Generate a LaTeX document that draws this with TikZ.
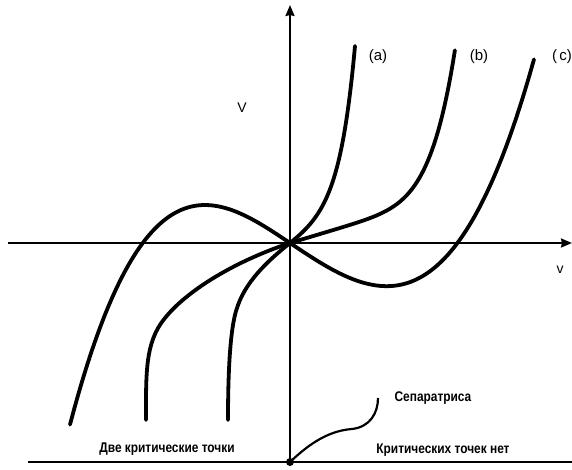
\documentclass[tikz,border=0pt]{standalone}
\usepackage{fontspec}
\setmainfont{Liberation Sans}
\newfontfamily\narrowfont[FakeStretch=0.85]{Liberation Sans}
\usetikzlibrary{arrows.meta}

\begin{document}
\begin{tikzpicture}[x=1pt, y=1pt, >={Stealth[length=11pt, width=9pt, inset=1pt]},
    curve/.style={line width=3.8pt, line cap=round},
    axis/.style={line width=2pt},
    lbl/.style={font=\fontsize{15}{17}\selectfont},
    axlbl/.style={font=\fontsize{14}{16}\selectfont},
    note/.style={font=\narrowfont\bfseries\fontsize{14}{16}\selectfont}]

    % Picture window, in pixels of the original, origin at the crossing of the axes
    \useasboundingbox (-290,-227) rectangle (282,243);
    \coordinate (O) at (0,0);
    \coordinate (B) at (0,-219);

    % Axes
    \draw[->, axis] (-282,0) -- (282,0);
    \draw[->, axis] (B) -- (0,238);
    \node[axlbl] (vlab) at (270,-27) {v};
    \node[axlbl] (Vlab) at (-48,135) {V};

    % Curve (a): steep on both sides
    \draw[curve] (-62,-177) .. controls (-62,-130) and (-60,-85) .. (-53,-65)
        .. controls (-45,-40) and (-25,-20) .. (O)
        .. controls (35,28) and (52,55) .. (65,197);
    % Curve (b): flat at the origin, then V = 0.3 v + c v^7 (units of 100)
    \draw[curve] (-144,-177) .. controls (-144,-130) and (-145,-99) .. (-125,-75)
        .. controls (-105,-50) and (-60,-20) .. (O)
        -- plot[domain=0:1.65, samples=80, variable=\u] ({100*\u}, {30*\u+4.32*\u^7});
    % Curve (c): V = -a v + b v^3, in units of 100
    \draw[curve]
        plot[domain=-2.2:0, samples=80, variable=\u] ({100*\u}, {-67*\u+30.9*\u*\u*\u})
        -- plot[domain=0:2.44, samples=80, variable=\u] ({100*\u}, {-67*\u+23.9*\u*\u*\u});

    \node[lbl] (a) at (88,186) {(a)};
    \node[lbl] (b) at (189,186) {(b)};
    \node[lbl] (c) at (272,186) {(\,c)};

    % Bottom line with the separatrix point
    \draw[axis] (-262,-219) -- (282,-219);
    \fill (B) circle (4pt);
    \coordinate (S) at (88,-155);
    \draw[line width=2.2pt] (B) .. controls (15,-205) and (35,-188) .. (62,-186)
        .. controls (80,-184) and (88,-170) .. (S);

    \node[note] (sep) at (143,-155) {Сепаратриса};
    \node[note] (two) at (-123,-206) {Две критические точки};
    \node[note] (none) at (153,-207) {Критических точек нет};

\end{tikzpicture}
\end{document}
